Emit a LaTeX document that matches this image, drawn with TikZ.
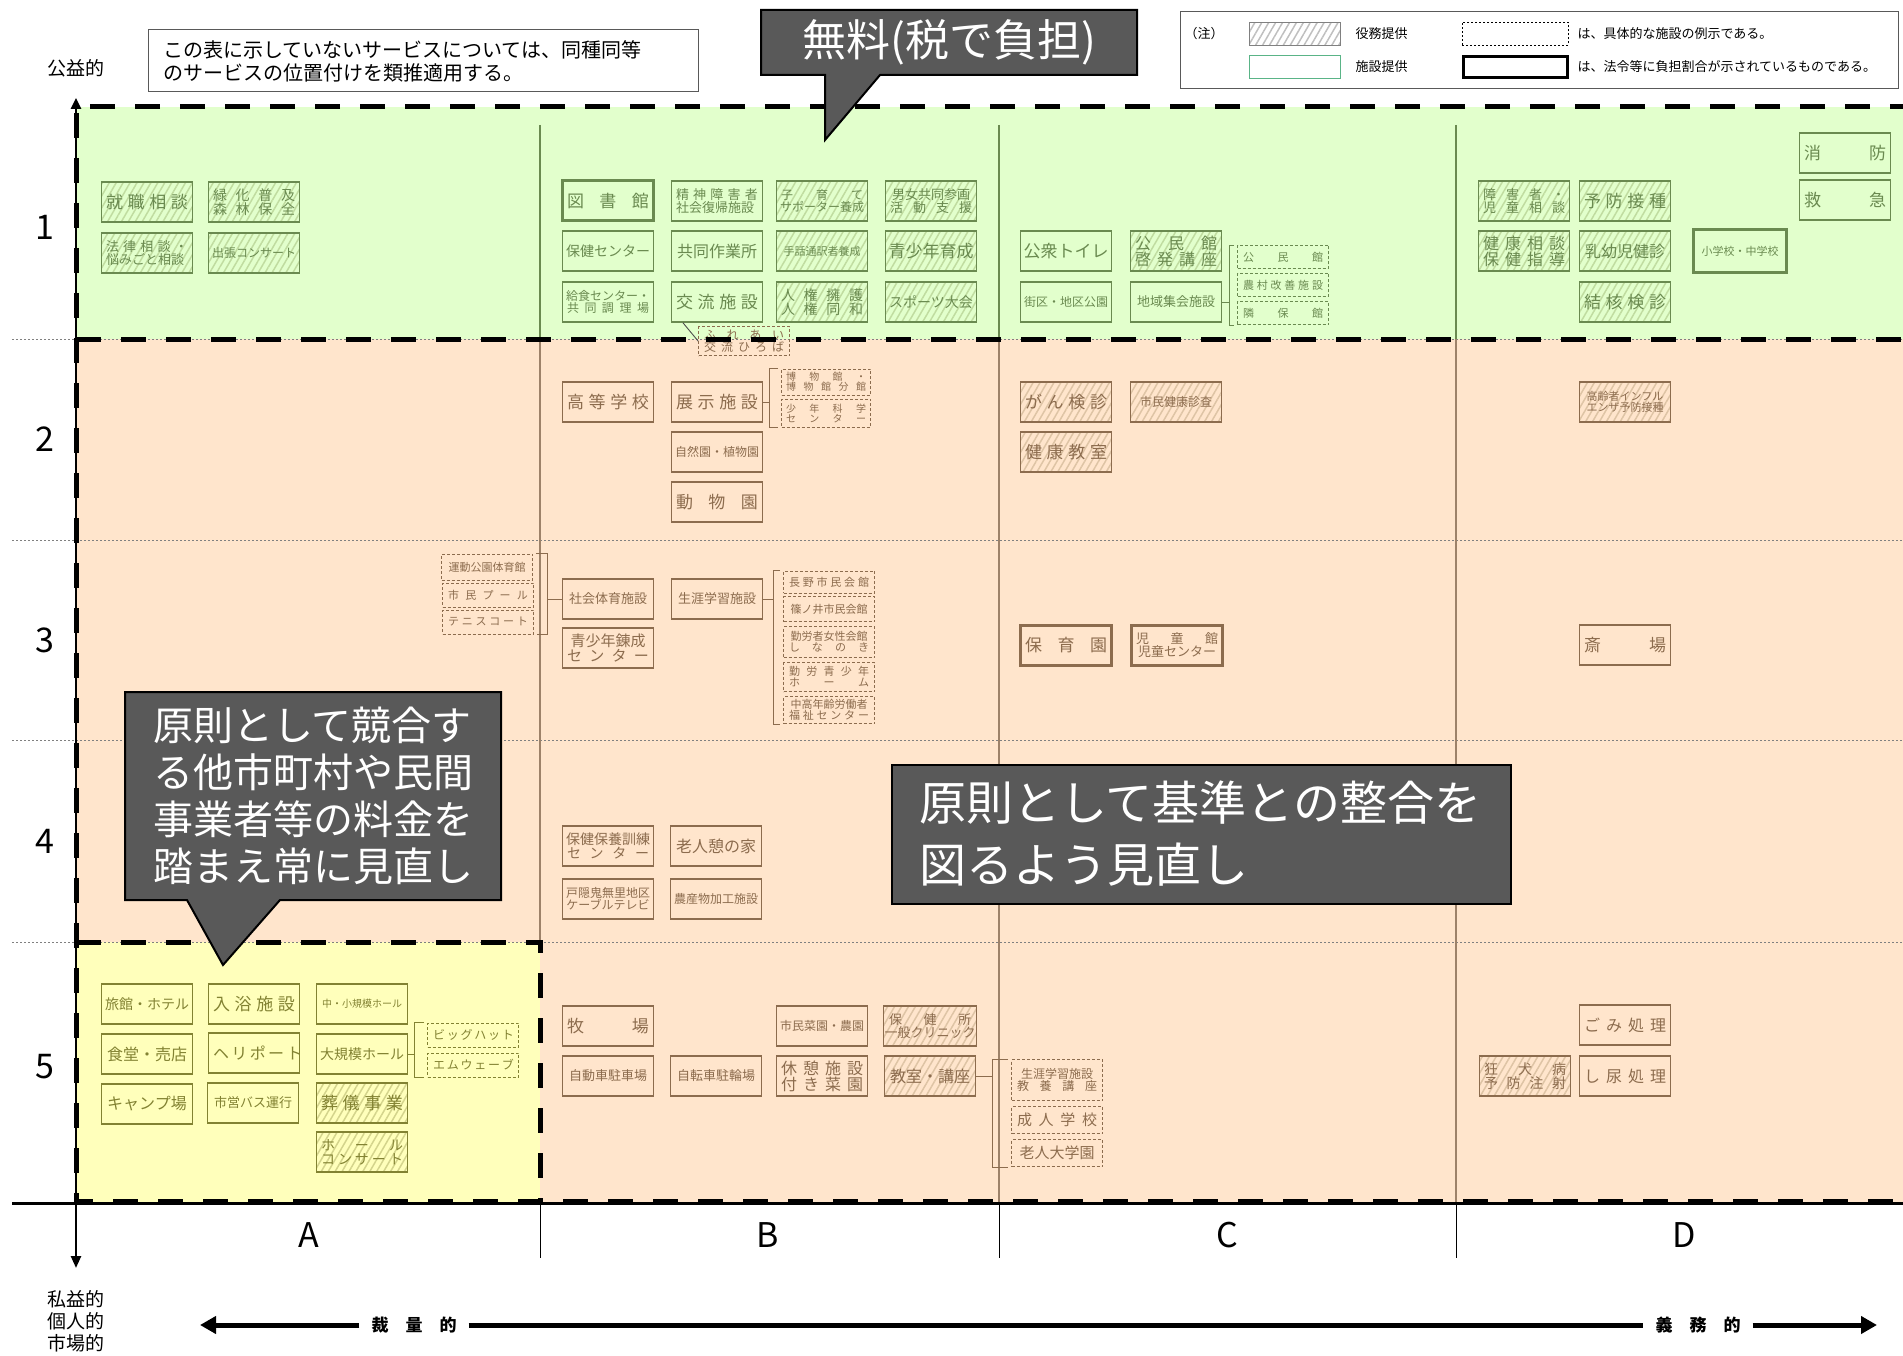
\documentclass[tikz,border=0pt]{standalone}
\usepackage{fontspec}
\setmainfont{Noto Sans CJK JP}
\usetikzlibrary{arrows.meta,patterns.meta}

\definecolor{gzone}{RGB}{226,255,204}
\definecolor{pzone}{RGB}{255,229,204}
\definecolor{yzone}{RGB}{255,255,187}
\definecolor{gink}{RGB}{106,138,80}
\definecolor{bink}{RGB}{140,108,78}
\definecolor{yink}{RGB}{130,130,50}
\definecolor{ghat}{RGB}{192,220,160}
\definecolor{bhat}{RGB}{222,196,165}
\definecolor{yhat}{RGB}{212,212,140}
\definecolor{cofill}{RGB}{89,89,89}

\newcommand{\fz}[1]{\fontsize{#1}{#1}\selectfont}
\newcommand{\spr}[2][82pt]{\makebox[#1][s]{#2}}
\newcommand{\svcbox}[5][]{\node[svc,#1] (#2) at (#3,#4) {#5};}
\newcommand{\egbox}[6][]{\node[eg,#1,minimum height=#5pt] (#2) at (#3,#4) {#6};}
\newcommand{\bracketR}[5][10]{\coordinate (#3k) at ([xshift=-#1pt]#3.north west); \draw[brk,#5] (#2.east) -- (#2.east -| #3k); \draw[brk,#5] ([xshift=-3pt]#3.north west) -- (#3k) |- ([xshift=-3pt]#4.south west);}
\newcommand{\bracketL}[5][12]{\coordinate (#3k) at ([xshift=#1pt]#3.north east); \draw[brk,#5] (#2.west) -- (#2.west -| #3k); \draw[brk,#5] ([xshift=3pt]#3.north east) -- (#3k) |- ([xshift=3pt]#4.south east);}

\tikzset{
  svc/.style={draw, rectangle, minimum width=91pt, minimum height=40pt, inner sep=1pt, align=center, line width=1.3pt},
  eg/.style={draw, rectangle, dash pattern=on 3pt off 2pt, line width=0.9pt, minimum width=91pt, inner sep=1pt, align=center},
  grn/.style={draw=gink, text=gink, pattern color=ghat},
  brn/.style={draw=bink, text=bink, pattern color=bhat},
  ylw/.style={draw=yink, text=yink, pattern color=yhat},
  hatch/.style={pattern={Lines[angle=60,distance=6pt,line width=1.5pt]}},
  law/.style={line width=3pt},
  brk/.style={line width=0.9pt},
  frame/.style={line width=5pt, dash pattern=on 25pt off 20pt, black},
  rowln/.style={draw=gray, line width=1pt, dash pattern=on 2pt off 2pt},
  gdiv/.style={draw=gink, line width=1.5pt},
  bdiv/.style={draw=bink!85, line width=1.5pt},
  cobox/.style={fill=cofill, draw=black, line width=2pt},
  cotext/.style={text=white, inner sep=0pt},
  bigarr/.style={line width=5pt, black},
}

\begin{document}
\begin{tikzpicture}[x=1pt,y=-1pt]
\useasboundingbox (0,0) rectangle (1903,1356);

% zones
\fill[gzone] (76,107) rectangle (1903,339);
\fill[pzone] (76,339) rectangle (1903,1203);
\fill[yzone] (76,942) rectangle (540,1203);
\foreach \y in {339,540,740,942} \draw[rowln] (12,\y) -- (1903,\y);
\foreach \x in {540,999,1456} \draw[gdiv] (\x,125) -- (\x,339);
\foreach \x in {999,1456} \draw[bdiv] (\x,339) -- (\x,1203);
\draw[bdiv] (540,339) -- (540,942);
\foreach \x in {540,999,1456} \draw[line width=1pt] (\x,1203) -- (\x,1258);

% labels
\node[font=\fz{19}] (koeki) at (76,68) {公益的};
\node[align=center, font=\fontsize{19}{22}\selectfont] (shieki) at (76,1321) {私益的\\個人的\\市場的};
\foreach \n/\y in {1/227,2/439,3/640,4/841,5/1067} \node[font=\fz{34}] (row\n) at (45,\y) {\n};
\foreach \c/\x in {A/309,B/768,C/1227,D/1684} \node[font=\fz{34}] (col\c) at (\x,1235) {\c};

% note and legend
\node[draw=gray!70!black, line width=1pt, text width=520pt, inner xsep=15pt, minimum height=62pt, align=left, font=\fontsize{20}{23}\selectfont] (note) at (423,61) {この表に示していないサービスについては、同種同等\\のサービスの位置付けを類推適用する。};
\draw[draw=gray!70!black, line width=1pt] (1180,12) rectangle (1898,89);
\node[font=\fz{13}] (chu) at (1204,34) {（注）};
\node[draw=gray, pattern={Lines[angle=60,distance=6pt,line width=1.5pt]}, pattern color=gray!50, minimum width=91pt, minimum height=23pt, inner sep=0pt] (lghatch) at (1295,34) {};
\node[anchor=west, font=\fz{13}] (lgeki) at (1352,34) {役務提供};
\node[draw, dash pattern=on 2pt off 2pt, line width=0.8pt, minimum width=106pt, minimum height=23pt, inner sep=0pt] (lgdash) at (1515,34) {};
\node[anchor=west, font=\fz{13}] (lgrei) at (1574,34) {は、具体的な施設の例示である。};
\node[draw={rgb,255:red,90;green,180;blue,135}, line width=1.2pt, fill=white, minimum width=91pt, minimum height=23pt, inner sep=0pt] (lggreen) at (1295,67) {};
\node[anchor=west, font=\fz{13}] (lgshisetsu) at (1352,67) {施設提供};
\node[draw, line width=3pt, minimum width=104pt, minimum height=21pt, inner sep=0pt] (lglaw) at (1515,67) {};
\node[anchor=west, font=\fz{13}] (lghorei) at (1574,67) {は、法令等に負担割合が示されているものである。};

% row1
\svcbox[grn,hatch,font=\fz{17}]{shushoku}{147}{202}{\spr{就 職 相 談}}
\svcbox[grn,hatch,font=\fz{14}]{ryokka}{254}{202}{\spr{緑 化 普 及}\\\spr{森 林 保 全}}
\svcbox[grn,hatch,font=\fz{13}]{horitsu}{147}{253}{\spr{法 律 相 談 ・}\\\spr{悩みごと相談}}
\svcbox[grn,hatch,font=\fz{12}]{shutcho}{254}{253}{出張コンサート}
\svcbox[grn,law,font=\fz{17}]{tosho}{608}{201}{\spr{図 書 館}}
\svcbox[grn,font=\fz{13}]{seishin}{717}{201}{\spr{精 神 障 害 者}\\\spr{社会復帰施設}}
\svcbox[grn,hatch,font=\fz{12}]{kosodate}{822}{201}{\spr{子 育 て}\\サポーター養成}
\svcbox[grn,hatch,font=\fz{13}]{danjo}{931}{201}{男女共同参画\\\spr{活 動 支 援}}
\svcbox[grn,font=\fz{14}]{hokenc}{608}{251}{保健センター}
\svcbox[grn,font=\fz{16}]{kyodo}{717}{251}{共同作業所}
\svcbox[grn,hatch,font=\fz{11}]{shuwa}{822}{251}{手話通訳者養成}
\svcbox[grn,hatch,font=\fz{17}]{seisho}{931}{251}{青少年育成}
\svcbox[grn,font=\fz{12}]{kyushoku}{608}{302}{給食センター・\\\spr{共 同 調 理 場}}
\svcbox[grn,font=\fz{17}]{koryu}{717}{302}{\spr{交 流 施 設}}
\svcbox[grn,hatch,font=\fz{14}]{jinken}{822}{302}{\spr{人 権 擁 護}\\\spr{人 権 同 和}}
\svcbox[grn,hatch,font=\fz{14}]{sports}{931}{302}{スポーツ大会}
\egbox[bink,text=bink,font=\fz{12}]{fureai}{744}{341}{29}{\spr[80pt]{ふ れ あ い}\\\spr[80pt]{交 流 ひ ろ ば}}
\draw[brk,gray!60!black] ([xshift=12pt]koryu.south west) -- (fureai.west);
\svcbox[grn,font=\fz{17}]{toilet}{1066}{251}{公衆トイレ}
\svcbox[grn,hatch,font=\fz{16}]{kominkan}{1176}{251}{\spr{公 民 館}\\\spr{啓 発 講 座}}
\svcbox[grn,font=\fz{12}]{gaiku}{1066}{302}{街区・地区公園}
\svcbox[grn,font=\fz{13}]{chiiki}{1176}{302}{地域集会施設}
\egbox[grn,font=\fz{11}]{komin}{1283}{257}{23}{\spr[80pt]{公 民 館}}
\egbox[grn,font=\fz{11}]{noson}{1283}{285}{23}{\spr[80pt]{農 村 改 善 施 設}}
\egbox[grn,font=\fz{11}]{rinpo}{1283}{313}{23}{\spr[80pt]{隣 保 館}}
\bracketR[8]{chiiki}{komin}{rinpo}{gink}
\svcbox[grn,hatch,font=\fz{13}]{shogai}{1524}{201}{\spr{障 害 者 ・}\\\spr{児 童 相 談}}
\svcbox[grn,hatch,font=\fz{17}]{yobo}{1625}{201}{\spr{予 防 接 種}}
\svcbox[grn,hatch,font=\fz{16}]{kenko}{1524}{251}{\spr{健 康 相 談}\\\spr{保 健 指 導}}
\svcbox[grn,hatch,font=\fz{16}]{nyuyo}{1625}{251}{乳幼児健診}
\svcbox[grn,hatch,font=\fz{17}]{kekkaku}{1625}{302}{\spr{結 核 検 診}}
\svcbox[grn,law,font=\fz{11},minimum width=93pt,minimum height=43pt]{school}{1740}{251}{小学校・中学校}
\svcbox[grn,font=\fz{17}]{shobo}{1845}{153}{\spr{消 防}}
\svcbox[grn,font=\fz{17}]{kyukyu}{1845}{200}{\spr{救 急}}

% row2
\svcbox[brn,font=\fz{17}]{koto}{608}{402}{\spr{高 等 学 校}}
\svcbox[brn,font=\fz{17}]{tenji}{717}{402}{\spr{展 示 施 設}}
\egbox[brn,font=\fz{10},minimum width=89pt]{hakub}{826}{382}{26}{\spr[80pt]{博 物 館 ・}\\\spr[80pt]{博 物 館 分 館}}
\egbox[brn,font=\fz{10},minimum width=89pt]{shonen}{826}{413}{28}{\spr[80pt]{少 年 科 学}\\\spr[80pt]{セ ン タ ー}}
\bracketR[12]{tenji}{hakub}{shonen}{bink}
\svcbox[brn,font=\fz{12}]{shizen}{717}{452}{自然園・植物園}
\svcbox[brn,font=\fz{17}]{dobutsu}{717}{502}{\spr{動 物 園}}
\svcbox[brn,hatch,font=\fz{17}]{gan}{1066}{402}{\spr{が ん 検 診}}
\svcbox[brn,hatch,font=\fz{12}]{kenshin}{1176}{402}{市民健康診査}
\svcbox[brn,hatch,font=\fz{17}]{kkyoshitsu}{1066}{452}{\spr{健 康 教 室}}
\svcbox[brn,hatch,font=\fz{11}]{kourei}{1625}{402}{高齢者インフル\\エンザ予防接種}

% row3
\egbox[brn,font=\fz{11}]{undo}{487}{567}{26}{運動公園体育館}
\egbox[brn,font=\fz{11}]{pool}{488}{595}{24}{\spr[80pt]{市 民 プ ー ル}}
\egbox[brn,font=\fz{11}]{tennis}{488}{622}{24}{\spr[80pt]{テ ニ ス コ ー ト}}
\svcbox[brn,font=\fz{13}]{shataiku}{608}{599}{社会体育施設}
\bracketL[14]{shataiku}{undo}{tennis}{bink}
\svcbox[brn,font=\fz{15}]{rensei}{608}{648}{青少年錬成\\\spr{セ ン タ ー}}
\svcbox[brn,font=\fz{13}]{shogaku}{717}{599}{生涯学習施設}
\egbox[brn,font=\fz{11}]{nagano}{829}{582}{22}{\spr[80pt]{長 野 市 民 会 館}}
\egbox[brn,font=\fz{11}]{shinonoi}{829}{609}{25}{篠ノ井市民会館}
\egbox[brn,font=\fz{11}]{kinro}{829}{642}{31}{勤労者女性会館\\\spr[80pt]{し な の き}}
\egbox[brn,font=\fz{11}]{kinseisho}{829}{677}{29}{\spr[80pt]{勤 労 青 少 年}\\\spr[80pt]{ホ ー ム}}
\egbox[brn,font=\fz{11}]{chukonen}{829}{710}{27}{中高年齢労働者\\\spr[80pt]{福 祉 セ ン タ ー}}
\bracketR[10]{shogaku}{nagano}{chukonen}{bink}
\svcbox[brn,law,font=\fz{17}]{hoiku}{1066}{645}{\spr{保 育 園}}
\svcbox[brn,law,font=\fz{13}]{jidokan}{1177}{645}{\spr{児 童 館}\\児童センター}
\svcbox[brn,font=\fz{17}]{saijo}{1625}{645}{\spr{斎 場}}

% row4
\svcbox[brn,font=\fz{14}]{hoyo}{608}{846}{保健保養訓練\\\spr{セ ン タ ー}}
\svcbox[brn,font=\fz{16}]{roujin}{716}{846}{老人憩の家}
\svcbox[brn,font=\fz{12}]{cable}{608}{899}{戸隠鬼無里地区\\ケーブルテレビ}
\svcbox[brn,font=\fz{12}]{nosan}{716}{899}{農産物加工施設}

% row5
\svcbox[ylw,font=\fz{14}]{ryokan}{147}{1004}{旅館・ホテル}
\svcbox[ylw,font=\fz{17}]{nyuyoku}{254}{1004}{\spr{入 浴 施 設}}
\svcbox[ylw,font=\fz{10}]{chusho}{362}{1004}{中・小規模ホール}
\svcbox[ylw,font=\fz{16}]{shokudo}{147}{1054}{食堂・売店}
\svcbox[ylw,font=\fz{16}]{heli}{254}{1053}{\spr{ヘ リ ポ ー ト}}
\svcbox[ylw,font=\fz{14}]{daikibo}{362}{1054}{大規模ホール}
\egbox[ylw,font=\fz{12}]{bighat}{473}{1035}{24}{\spr[80pt]{ビ ッ グ ハ ッ ト}}
\egbox[ylw,font=\fz{12}]{mwave}{473}{1065}{24}{\spr[80pt]{エ ム ウ ェ ー ブ}}
\bracketR[13]{daikibo}{bighat}{mwave}{yink}
\svcbox[ylw,font=\fz{16}]{camp}{147}{1104}{キャンプ場}
\svcbox[ylw,font=\fz{13}]{bus}{253}{1103}{市営バス運行}
\svcbox[ylw,hatch,font=\fz{17}]{sogi}{362}{1103}{\spr{葬 儀 事 業}}
\svcbox[ylw,hatch,font=\fz{14}]{hallc}{362}{1152}{\spr{ホ ー ル}\\\spr{コ ン サ ー ト}}
\svcbox[brn,font=\fz{17}]{bokujo}{608}{1026}{\spr{牧 場}}
\svcbox[brn,font=\fz{12}]{saien}{822}{1026}{市民菜園・農園}
\svcbox[brn,hatch,font=\fz{13}]{hokenjo}{930}{1026}{\spr{保 健 所}\\一般クリニック}
\svcbox[brn,font=\fz{13}]{jidosha}{608}{1076}{自動車駐車場}
\svcbox[brn,font=\fz{13}]{jitensha}{716}{1076}{自転車駐輪場}
\svcbox[brn,font=\fz{16}]{kyukei}{822}{1076}{\spr{休 憩 施 設}\\\spr{付 き 菜 園}}
\svcbox[brn,hatch,font=\fz{16}]{kyoshitsu}{930}{1076}{教室・講座}
\egbox[brn,font=\fz{12}]{kyoyo}{1057}{1080}{41}{生涯学習施設\\\spr[80pt]{教 養 講 座}}
\egbox[brn,font=\fz{15}]{seijin}{1057}{1120}{27}{\spr[80pt]{成 人 学 校}}
\egbox[brn,font=\fz{15}]{rojindai}{1057}{1153}{27}{老人大学園}
\bracketR[19]{kyoshitsu}{kyoyo}{rojindai}{bink}
\svcbox[brn,hatch,font=\fz{14}]{kyoken}{1525}{1076}{\spr{狂 犬 病}\\\spr{予 防 注 射}}
\svcbox[brn,font=\fz{16}]{gomi}{1625}{1025}{\spr{ご み 処 理}}
\svcbox[brn,font=\fz{16}]{shinyo}{1625}{1076}{\spr{し 尿 処 理}}

% frames and axes
\draw[frame] (1915,107) -- (76,107) -- (76,1201) -- (1915,1201);
\draw[frame] (76,339) -- (1915,339);
\draw[frame] (76,942) -- (540,942) -- (540,1201);
\coordinate (ytop) at (76,98);
\coordinate (ybot) at (76,1268);
\coordinate (xlft) at (12,1203);
\coordinate (xrgt) at (1903,1203);
\draw[line width=2.5pt, {Triangle[length=11pt,width=10pt]}-{Triangle[length=12pt,width=10pt]}] (ytop) -- (ybot);
\draw[line width=3pt] (xlft) -- (xrgt);

% bottom arrow
\node[font=\bfseries\fz{17}, inner xsep=12pt] (sairyo) at (414,1325) {裁　量　的};
\node[font=\bfseries\fz{17}, inner xsep=12pt] (gimu) at (1698,1325) {義　務　的};
\coordinate (ltip) at (200,1325);
\coordinate (rtip) at (1877,1325);
\draw[bigarr, -{Triangle[length=16pt,width=17pt]}] (sairyo.west) -- (ltip);
\draw[bigarr] (sairyo.east) -- (gimu.west);
\draw[bigarr, -{Triangle[length=16pt,width=17pt]}] (gimu.east) -- (rtip);

% callouts
\draw[cobox] (761,10) -- (1137,10) -- (1137,75) -- (880,75) -- (825,140) -- (825,75) -- (761,75) -- cycle;
\node[cotext, font=\fz{44}] (muryo) at (949,42) {無料(税で負担)};
\draw[cobox] (125,692) -- (501,692) -- (501,900) -- (280,900) -- (223,965) -- (187,900) -- (125,900) -- cycle;
\node[cotext, align=left, font=\fontsize{40}{47}\selectfont] (kyogo) at (313,796) {原則として競合す\\る他市町村や民間\\事業者等の料金を\\踏まえ常に見直し};
\draw[cobox] (892,765) rectangle (1511,904);
\node[cotext, align=left, anchor=west, font=\fontsize{47}{62}\selectfont] (kijun) at (919,834) {原則として基準との整合を\\図るよう見直し};
\end{tikzpicture}
\end{document}
